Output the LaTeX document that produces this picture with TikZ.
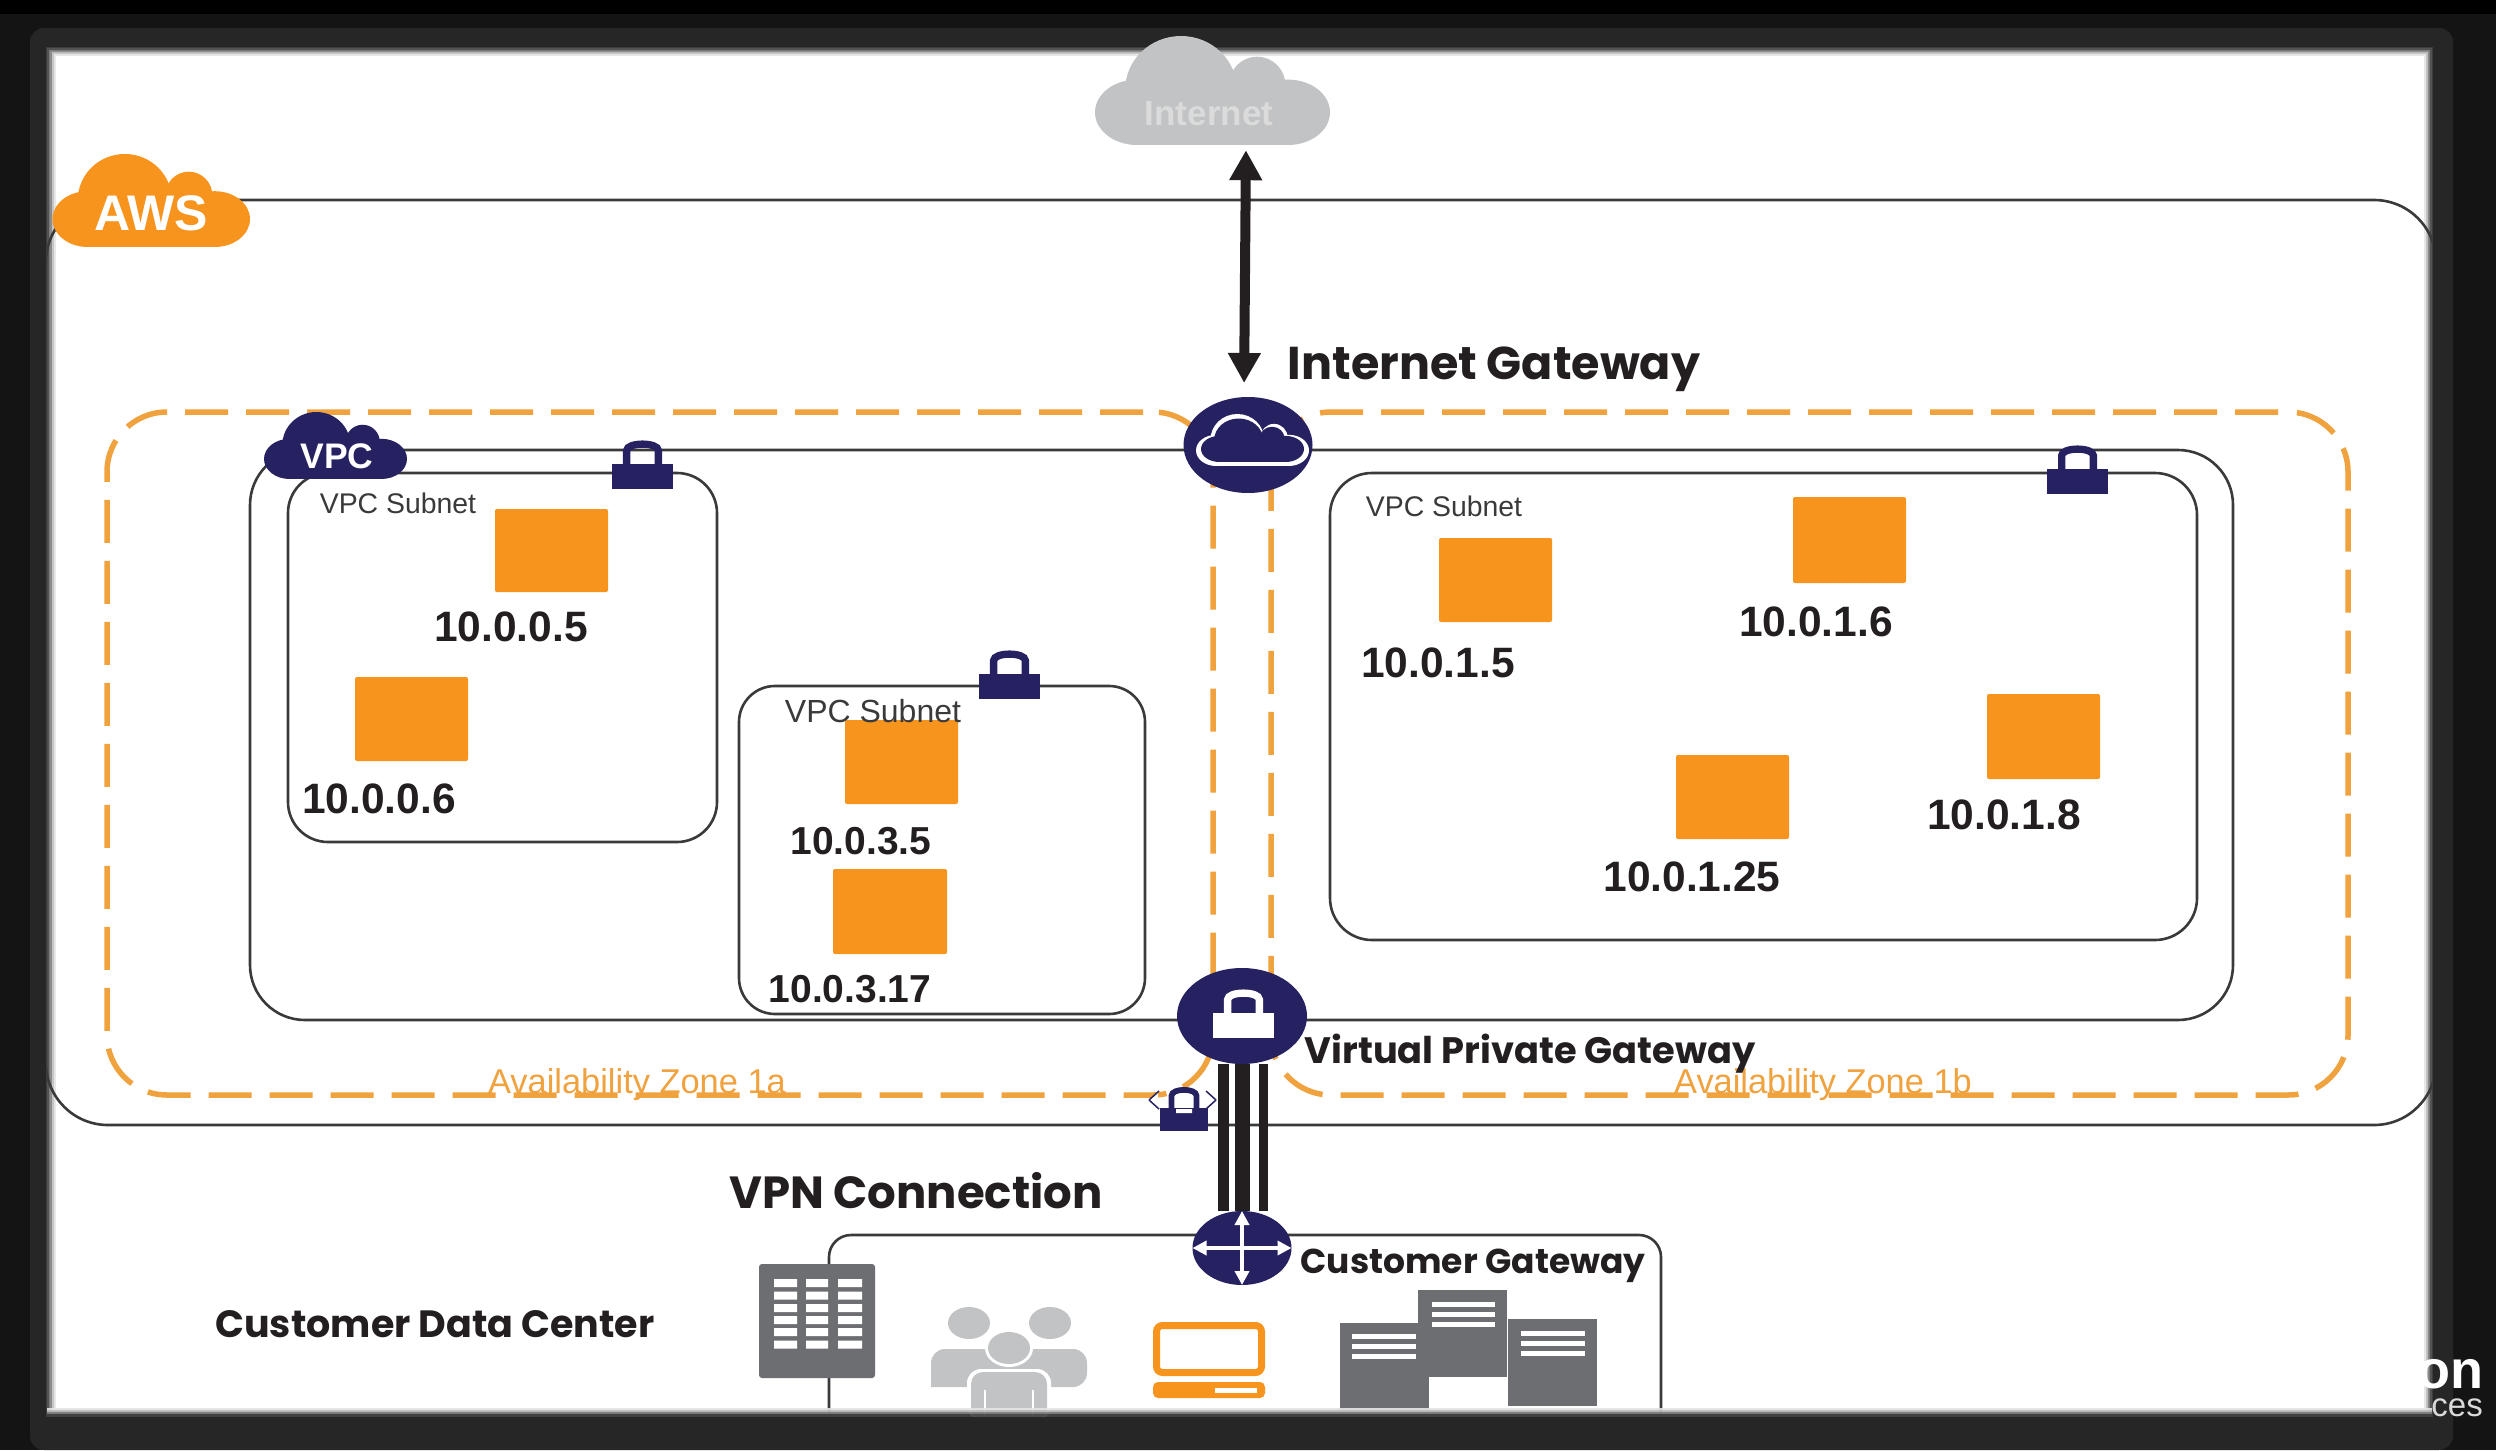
\documentclass[tikz,border=0pt]{standalone}
\usepackage{fontspec}
\setmainfont{Liberation Sans}
\newfontfamily\gothic{Poppins}
\usetikzlibrary{shapes.geometric,arrows.meta}
\definecolor{navy}{HTML}{262262}
\definecolor{awsorange}{HTML}{F7941E}
\definecolor{dashorange}{HTML}{F0A23F}
\definecolor{ink}{HTML}{231F20}
\definecolor{cloudgray}{HTML}{C1C3C5}
\definecolor{bldgray}{HTML}{6D6E71}
\definecolor{lineink}{HTML}{3A3A3C}
\tikzset{
  frame/.style={draw=lineink,line width=2.6pt,rounded corners=#1,inner sep=0pt,outer sep=0pt},
  zoneline/.style={draw=dashorange,line width=5.5pt,rounded corners=60pt,dash pattern=on 43pt off 18pt,dash phase=51pt,inner sep=0pt},
  inst/.style={fill=awsorange,rounded corners=2pt,inner sep=0pt,minimum width=113pt,minimum height=84pt},
  iplabel/.style={font=\bfseries\fontsize{42.5}{50}\selectfont,text=ink,inner sep=0pt},
  iplabelsmall/.style={font=\bfseries\fontsize{39}{46}\selectfont,text=ink,inner sep=0pt},
  subnetlabel/.style={font=\fontsize{28.4}{34}\selectfont,text=lineink,inner sep=0pt},
  zonelabel/.style={font=\fontsize{34.4}{40}\selectfont,text=dashorange,inner sep=0pt},
  gwlabel/.style={text=ink,inner sep=0pt,anchor=base},
  gate/.style={ellipse,fill=navy,inner sep=0pt,outer sep=0pt},
}
\newcommand\boxnode[6]{%
  \pgfmathsetmacro\bw{#5-#3}\pgfmathsetmacro\bh{#6-#4}%
  \pgfmathsetmacro\bx{(#5+#3)/2}\pgfmathsetmacro\by{(#6+#4)/2}%
  \node[#2,minimum width=\bw pt,minimum height=\bh pt] (#1) at (\bx,\by) {};}
\newcommand\cloudfill[5]{%
  \begin{scope}[shift={(#1,#2)},xscale=#3,yscale=#4]
  \fill[#5] (.179,.70) ellipse [x radius=.179,y radius=.30];
  \fill[#5] (.366,.495) ellipse [x radius=.238,y radius=.495];
  \fill[#5] (.69,.45) ellipse [x radius=.12,y radius=.26];
  \fill[#5] (.821,.70) ellipse [x radius=.179,y radius=.30];
  \fill[#5] (.179,.5) rectangle (.821,1);
  \end{scope}}
\newcommand\lockicon[5]{% x1 y1 x2 y2 colour
  \pgfmathsetmacro\lw{#3-#1}\pgfmathsetmacro\lh{#4-#2}%
  \pgfmathsetmacro\lm{(#1+#3)/2}%
  \pgfmathsetmacro\lr{\lw*.26}\pgfmathsetmacro\ls{\lw*.12}%
  \pgfmathsetmacro\lb{#2+\lh*.48}%
  \fill[#5] (#1,\lb) rectangle (#3,#4);
  \draw[#5,line width=\ls pt] (\lm-\lr,\lb+1) -- (\lm-\lr,#2+\lh*.2)
     .. controls (\lm-\lr,#2+\lh*.02) and (\lm+\lr,#2+\lh*.02) .. (\lm+\lr,#2+\lh*.2) -- (\lm+\lr,\lb+1);}
\newcommand\bldrows[4]{% x1 x2 y-list colour
  \foreach \ya in {#3} {\fill[#4] (#1,\ya) rectangle (#2,\ya+5);}}
\begin{document}
\begin{tikzpicture}[x=1pt,y=-1pt]
\useasboundingbox (0,0) rectangle (2496,1450);
% surround
\fill[black!92!white] (0,0) rectangle (2496,1450);
\fill[black] (0,0) rectangle (2496,14);
\fill[rounded corners=14pt,fill=black!85!white] (30,28) rectangle (2453,1450);
\fill[white] (47,48) rectangle (2432,1416);
% soft panel edge
\foreach \ins/\wid/\shade in {1/4/75,3.5/2.5/50,5.5/2/25,7.5/2/10} {
  \draw[black!\shade!white,opacity=.9,line width=\wid pt]
    (47+\ins,48+\ins) rectangle (2432-\ins,1416-\ins);}
% corner text beside the panel edge
\node[inner sep=0pt,anchor=base east,text=white,font=\bfseries\fontsize{54}{60}\selectfont] (wmark1) at (2484,1388) {on};
\node[inner sep=0pt,anchor=base east,text=black!15!white,font=\fontsize{33}{40}\selectfont] (wmark2) at (2483,1416) {ces};
\begin{scope}
\clip (47,48) rectangle (2432,1416);
\boxnode{aws}{frame=62pt}{46}{200}{2436}{1125}
\boxnode{zonea}{zoneline}{107}{412}{1213}{1095}
\boxnode{zoneb}{zoneline}{1271}{412}{2348}{1095}
\boxnode{vpc}{frame=55pt}{250}{450}{2233}{1020}
\boxnode{sub1}{frame=40pt}{288}{473}{717}{842}
\boxnode{sub2}{frame=36pt}{739}{686}{1145}{1014}
\boxnode{sub3}{frame=42pt}{1330}{473}{2197}{940}
\boxnode{cust}{frame=22pt}{829}{1235}{1661}{1430}
% instances
\boxnode{i005}{inst}{495}{509}{608}{592}
\boxnode{i006}{inst}{355}{677}{468}{761}
\boxnode{i035}{inst}{845}{720}{958}{804}
\boxnode{i0317}{inst}{833}{869}{947}{954}
\boxnode{i015}{inst}{1439}{538}{1552}{622}
\boxnode{i016}{inst}{1793}{497}{1906}{583}
\boxnode{i018}{inst}{1987}{694}{2100}{779}
\boxnode{i0125}{inst}{1676}{755}{1789}{839}
% labels
\node[iplabel] (l005) at (511,627) {10.0.0.5};
\node[iplabel] (l006) at (379,799) {10.0.0.6};
\node[iplabelsmall] (l035) at (861,841) {10.0.3.5};
\node[iplabelsmall] (l0317) at (850,989) {10.0.3.17};
\node[iplabel] (l015) at (1438,663) {10.0.1.5};
\node[iplabel] (l016) at (1816,622) {10.0.1.6};
\node[iplabel] (l018) at (2004,815) {10.0.1.8};
\node[iplabel] (l0125) at (1692,877) {10.0.1.25};
\node[subnetlabel] (s1) at (398,503) {VPC Subnet};
\node[subnetlabel,font=\fontsize{32}{38}\selectfont] (s2) at (873,711) {VPC Subnet};
\node[subnetlabel] (s3) at (1444,506) {VPC Subnet};
\node[zonelabel] (za) at (637,1085) {Availability Zone 1a};
\node[zonelabel] (zb) at (1823,1085) {Availability Zone 1b};
% AWS / VPC clouds
\cloudfill{52.5}{154}{197.5}{93}{awsorange}
\node[inner sep=0pt,text=white,font=\bfseries\fontsize{50}{56}\selectfont] (awslabel) at (151,213) {AWS};
\cloudfill{264}{412}{143}{67}{navy}
\node[inner sep=0pt,text=white,font=\bfseries\fontsize{35.5}{40}\selectfont] (vpclabel) at (337,456) {VPC};
% subnet locks
\lockicon{612}{441}{673}{489}{navy}
\lockicon{979}{651}{1040}{699}{navy}
\lockicon{2047}{446}{2108}{494}{navy}
% VPN lock
\lockicon{1160}{1087}{1208}{1131}{navy}
\fill[white] (1149,1100) -- (1158,1092) -- (1158,1108) -- cycle;
\fill[white] (1216,1100) -- (1207,1092) -- (1207,1108) -- cycle;
\draw[navy,line width=1.5pt] (1149,1100) -- (1159,1091) (1149,1100) -- (1159,1109) (1216,1100) -- (1206,1091) (1216,1100) -- (1206,1109);
\fill[white] (1176,1100) rectangle (1192,1104) (1176,1109) rectangle (1192,1113);
% gateways and connectors
\node[gate,minimum width=129pt,minimum height=96pt] (igw) at (1248,445) {};
\node[gate,minimum width=130pt,minimum height=96pt] (vpg) at (1242,1016) {};
\node[gate,minimum width=99pt,minimum height=74pt] (cgw) at (1242,1248) {};
\begin{scope}[ink]
\draw[line width=11pt] ([xshift=-18.5pt]vpg.south) -- ([xshift=-18.5pt]vpg.south |- cgw.north);
\draw[line width=15pt] ([xshift=.5pt]vpg.south) -- ([xshift=.5pt]vpg.south |- cgw.north);
\draw[line width=9pt] ([xshift=21.5pt]vpg.south) -- ([xshift=21.5pt]vpg.south |- cgw.north);
\end{scope}
% white glyphs inside gateways
\cloudfill{1196}{414}{113}{52}{white}
\cloudfill{1201}{418.5}{103}{43.5}{navy}
\lockicon{1213}{990}{1274}{1038}{white}
\draw[white,line width=4pt,{Triangle[width=14pt,length=14pt]}-{Triangle[width=14pt,length=14pt]}] (cgw.west) -- (cgw.east);
\draw[white,line width=4pt,{Triangle[width=14pt,length=14pt]}-{Triangle[width=14pt,length=14pt]}] (cgw.north) -- (cgw.south);
% data-centre icons
\boxnode{hq}{fill=bldgray,rounded corners=3pt,inner sep=0pt}{759}{1264}{875}{1378}
\foreach \ya in {1279,1291.5,1304,1316,1328,1340.5} {
  \fill[white] (774,\ya) rectangle (797,\ya+8) (806,\ya) rectangle (828,\ya+8) (838,\ya) rectangle (862,\ya+8);}
% people
\fill[cloudgray] (969,1323) ellipse [x radius=21,y radius=16] (1050,1323) ellipse [x radius=21,y radius=16];
\fill[cloudgray,rounded corners=14pt] (931,1387) -- (931,1349) -- (1087,1349) -- (1087,1387) [sharp corners] -- cycle;
\fill[white] (1009,1348) ellipse [x radius=24,y radius=19];
\fill[cloudgray] (1009,1348) ellipse [x radius=21,y radius=16];
\fill[white,rounded corners=14pt] (967,1420) -- (967,1369) -- (1051,1369) -- (1051,1420) -- cycle;
\fill[cloudgray,rounded corners=12pt] (971,1420) -- (971,1372) -- (1047,1372) -- (1047,1420) -- cycle;
\draw[white,line width=1.5pt] (985,1390) -- (985,1416) (1033,1390) -- (1033,1416);
% laptop
\draw[awsorange,line width=7pt,rounded corners=6pt] (1156.5,1325.5) rectangle (1261.5,1372.5);
\fill[awsorange,rounded corners=5pt] (1153,1382) rectangle (1265,1398);
\fill[white] (1215,1388) rectangle (1257,1393);
% servers
\fill[bldgray] (1340,1323) rectangle (1429,1410);
\fill[bldgray] (1508,1319) rectangle (1597,1406);
\fill[bldgray] (1418,1290) rectangle (1507,1377);
\bldrows{1352}{1416}{1334,1344,1354}{white}
\bldrows{1432}{1495}{1302,1312,1322}{white}
\bldrows{1521}{1585}{1331,1341,1351}{white}
% gothic labels
\node[gwlabel,font=\gothic\bfseries\fontsize{46}{50}\selectfont] (igwl) at (1494,379) {Internet Gateway};
\node[gwlabel,font=\gothic\bfseries\fontsize{36.8}{42}\selectfont] (vpgl) at (1530,1063) {Virtual Private Gateway};
\node[gwlabel,font=\gothic\bfseries\fontsize{45}{50}\selectfont] (vpnl) at (916,1208) {VPN Connection};
\node[gwlabel,font=\gothic\bfseries\fontsize{34.5}{40}\selectfont] (cgwl) at (1473,1273) {Customer Gateway};
\node[gwlabel,font=\gothic\bfseries\fontsize{38}{42}\selectfont] (cdcl) at (435,1337) {Customer Data Center};
\end{scope}
% fade of the icons into the lower panel edge
\foreach \ins/\wid/\shade in {1/4/75,3.5/2.5/50,5.5/2/25,7.5/2/10} {
  \draw[black!\shade!white,opacity=.9,line width=\wid pt]
    (47,1416-\ins) -- (2432,1416-\ins);}
% internet cloud, over the surround
\cloudfill{1095}{36}{235}{109}{cloudgray}
\node[inner sep=0pt,minimum width=235pt,minimum height=109pt] (internet) at (1212.5,90.5) {};
\node[inner sep=0pt,text=black!14!white,font=\bfseries\fontsize{35}{40}\selectfont] (internetl) at (1209,114) {Internet};
\draw[ink,line width=10pt,{Triangle[width=31pt,length=30pt]}-{Triangle[width=31pt,length=30pt]},shorten <=5pt,shorten >=14pt] ([xshift=33.5pt]internet.south) -- ([xshift=-4pt]igw.north);
\end{tikzpicture}
\end{document}
